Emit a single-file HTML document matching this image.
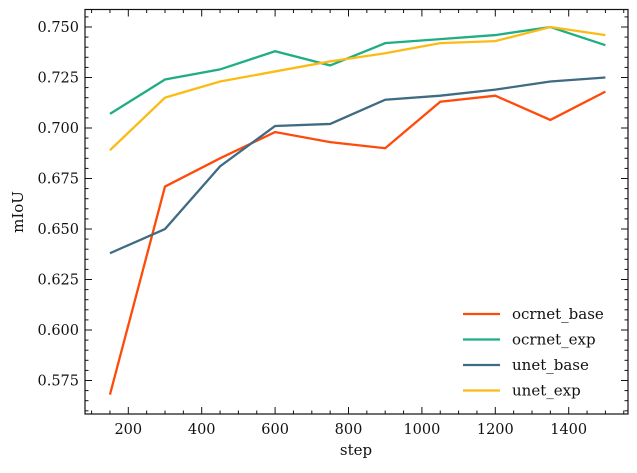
<!DOCTYPE html>
<html><head><meta charset="utf-8"><style>
body{margin:0;background:#fff}
svg text{font-family:"DejaVu Serif","Liberation Serif",serif;fill:#111}
</style></head><body>
<svg id="chart" width="637" height="468">
<g id="grid"></g>
</svg>
<script>
const steps=[150,300,450,600,750,900,1050,1200,1350,1500];
const ocrnetBase=[0.568,0.671,0.685,0.698,0.693,0.690,0.713,0.716,0.704,0.718];
const ocrnetExp=[0.707,0.724,0.729,0.738,0.731,0.742,0.744,0.746,0.750,0.741];
const unetBase=[0.638,0.650,0.681,0.701,0.702,0.714,0.716,0.719,0.723,0.725];
const unetExp=[0.689,0.715,0.723,0.728,0.733,0.737,0.742,0.743,0.750,0.746];
const seriesNames=["ocrnet_base","ocrnet_exp","unet_base","unet_exp"];
const xTicks=[200,400,600,800,1000,1200,1400];
const yTicks=[0.575,0.600,0.625,0.650,0.675,0.700,0.725,0.750];
const colors=["#ff4a0a","#1fae84","#3f6b83","#fbbb14"];
const data=[ocrnetBase,ocrnetExp,unetBase,unetExp];
const L=85,R=628,T=9.5,B=414;
const x=v=>128.3+(v-200)*0.367;
const y=v=>27+(0.750-v)*2020;
const svg=document.getElementById('chart');
const NS="http://www.w3.org/2000/svg";
function mk(t,a,p){const e=document.createElementNS(NS,t);for(const k in a)e.setAttribute(k,a[k]);(p||svg).appendChild(e);return e;}
// series
data.forEach((d,i)=>{
  const p=mk('polyline',{points:d.map((v,j)=>x(steps[j])+','+y(v)).join(' '),fill:'none',stroke:colors[i],'stroke-width':2.3});
  
  
});
// frame
const fr=mk('rect',{x:L,y:T,width:R-L,height:B-T,fill:'none',stroke:'#111','stroke-width':1.2});


// x ticks
for(let v=100;v<=1550;v+=50){
  const px=x(v); if(px<L||px>R)continue;
  const major=v%200===0, len=major?7:3.5;
  mk('line',{x1:px,x2:px,y1:B,y2:B-len,stroke:'#111','stroke-width':1});
  mk('line',{x1:px,x2:px,y1:T,y2:T+len,stroke:'#111','stroke-width':1});
}
xTicks.forEach(v=>{
  const t=mk('text',{x:x(v),y:B+20,'text-anchor':'middle','font-size':14.5});
  t.textContent=v;
  
  
});
// y ticks
for(let k=0;k<=40;k++){
  const v=0.555+k*0.005, py=y(v); if(py<T||py>B)continue;
  const major=Math.round(v*1000)%25===0, len=major?7:3.5;
  mk('line',{x1:L,x2:L+len,y1:py,y2:py,stroke:'#111','stroke-width':1});
  mk('line',{x1:R,x2:R-len,y1:py,y2:py,stroke:'#111','stroke-width':1});
}
yTicks.forEach(v=>{
  const t=mk('text',{x:L-6,y:y(v)+5,'text-anchor':'end','font-size':14.5});
  t.textContent=v.toFixed(3);
  
  
});
const xt=mk('text',{x:356,y:455,'text-anchor':'middle','font-size':15});xt.textContent='step';


const yt=mk('text',{x:0,y:0,'text-anchor':'middle','font-size':15,transform:'translate(23,212) rotate(-90)'});yt.textContent='mIoU';


// legend
seriesNames.forEach((n,i)=>{
  const ly=314+i*25.5;
  const g=mk('g',{});
  
  
  mk('line',{x1:463,x2:500,y1:ly,y2:ly,stroke:colors[i],'stroke-width':2.3},g);
  const t=mk('text',{x:512,y:ly+5,'font-size':15},g);t.textContent=n;
});
</script>
</body></html>
